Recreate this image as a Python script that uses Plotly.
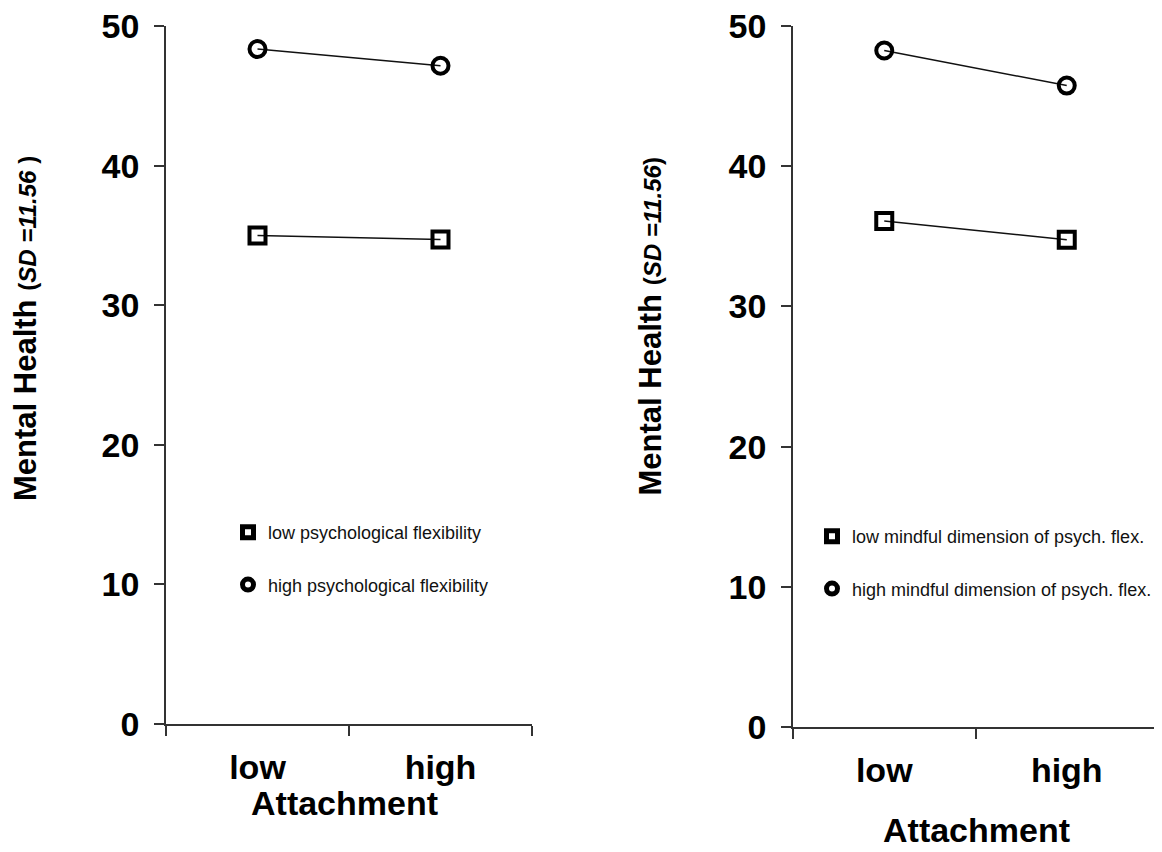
import plotly.graph_objects as go

# ---- data ----
attachment = ["low", "high"]

left_low_flex = [35.0, 34.7]
left_high_flex = [48.35, 47.15]
left_names = ["low psychological flexibility", "high psychological flexibility"]

right_low_mind = [36.1, 34.75]
right_high_mind = [48.25, 45.75]
right_names = ["low mindful dimension of psych. flex.", "high mindful dimension of psych. flex."]

y_ticks = [0, 10, 20, 30, 40, 50]

W, H = 1162, 852
OFF = 8  # page body margin
FONT = "Liberation Sans, Arial, sans-serif"
INK = "#111111"
AX = "#333333"


def px(v):
    return (v - OFF) / W


def py(v):
    return 1 - (v - OFF) / H


fig = go.Figure()


def add_series(xa, ya, yvals, symbol, legend, name):
    fig.add_trace(go.Scatter(
        x=attachment, y=yvals, xaxis=xa, yaxis=ya, mode="lines+markers",
        line=dict(color=INK, width=1.5),
        marker=dict(symbol=symbol, size=16, color="black",
                    line=dict(color="black", width=4)),
        showlegend=False, hoverinfo="x+y"))
    # legend-only entry
    fig.add_trace(go.Scatter(
        x=[None], y=[None], xaxis=xa, yaxis=ya, mode="markers", name=name,
        legend=legend, legendgroup=name,
        marker=dict(symbol=symbol, size=11, color="black",
                    line=dict(color="black", width=5)),
        showlegend=True))


add_series("x", "y", left_low_flex, "square-open", "legend", left_names[0])
add_series("x", "y", left_high_flex, "circle-open", "legend", left_names[1])
add_series("x2", "y2", right_low_mind, "square-open", "legend2", right_names[0])
add_series("x2", "y2", right_high_mind, "circle-open", "legend2", right_names[1])


def xax(domain, anchor):
    return dict(domain=domain, anchor=anchor, type="category",
                categoryorder="array", categoryarray=attachment,
                range=[-0.5, 1.5], tickson="boundaries", automargin=False,
                showline=True, linecolor=AX, linewidth=1.5,
                ticks="outside", ticklen=10, tickwidth=1.5, tickcolor=AX,
                showgrid=False, zeroline=False, ticklabelstandoff=12,
                ticklabeloverflow="allow",
                tickfont=dict(family=FONT, size=34, color="black", weight="bold"))


def yax(domain, anchor):
    return dict(domain=domain, anchor=anchor, range=[0, 50], automargin=False,
                tickvals=y_ticks, ticktext=[str(v) for v in y_ticks],
                showline=True, linecolor=AX, linewidth=1.5,
                ticks="outside", ticklen=10, tickwidth=1.5, tickcolor=AX,
                showgrid=False, zeroline=False, ticklabelstandoff=8,
                ticklabeloverflow="allow",
                tickfont=dict(family=FONT, size=34, color="black", weight="bold"))


legend_style = dict(font=dict(family=FONT, size=18, color="#111111"),
                    bgcolor="rgba(0,0,0,0)", tracegroupgap=26,
                    xanchor="left", yanchor="top", itemwidth=30)

ytitle_l = ("<b>Mental Health</b> <b><span style='font-size:24px'>(<i>SD =11.56</i> )</span></b>")
ytitle_r = ("<b>Mental Health</b> <b><span style='font-size:24px'>(<i>SD =11.56</i>)</span></b>")

fig.update_layout(
    width=W, height=H, autosize=False,
    margin=dict(l=0, r=0, t=0, b=0, autoexpand=False),
    paper_bgcolor="white", plot_bgcolor="white",
    font=dict(family=FONT, color="black"),
    xaxis=xax([px(166), px(532)], "y"),
    yaxis=yax([py(724), py(26)], "x"),
    xaxis2=xax([px(793), px(1158)], "y2"),
    yaxis2=yax([py(727), py(26)], "x2"),
    legend=dict(x=px(248 - 20), y=py(514), **legend_style),
    legend2=dict(x=px(832 - 20), y=py(518), **legend_style),
    showlegend=True,
    annotations=[
        dict(text=ytitle_l, textangle=-90, x=px(25.5), y=py(328.5),
             xref="paper", yref="paper", xanchor="center", yanchor="middle",
             showarrow=False, font=dict(family=FONT, size=31, color="black")),
        dict(text=ytitle_r, textangle=-90, x=px(650), y=py(326.5),
             xref="paper", yref="paper", xanchor="center", yanchor="middle",
             showarrow=False, font=dict(family=FONT, size=31, color="black")),
        dict(text="<b>Attachment</b>", x=px(345), y=py(803),
             xref="paper", yref="paper", xanchor="center", yanchor="middle",
             showarrow=False, font=dict(family=FONT, size=34, color="black")),
        dict(text="<b>Attachment</b>", x=px(976), y=py(830),
             xref="paper", yref="paper", xanchor="center", yanchor="middle",
             showarrow=False, font=dict(family=FONT, size=34, color="black")),
    ],
)

fig.write_html("out.html")
